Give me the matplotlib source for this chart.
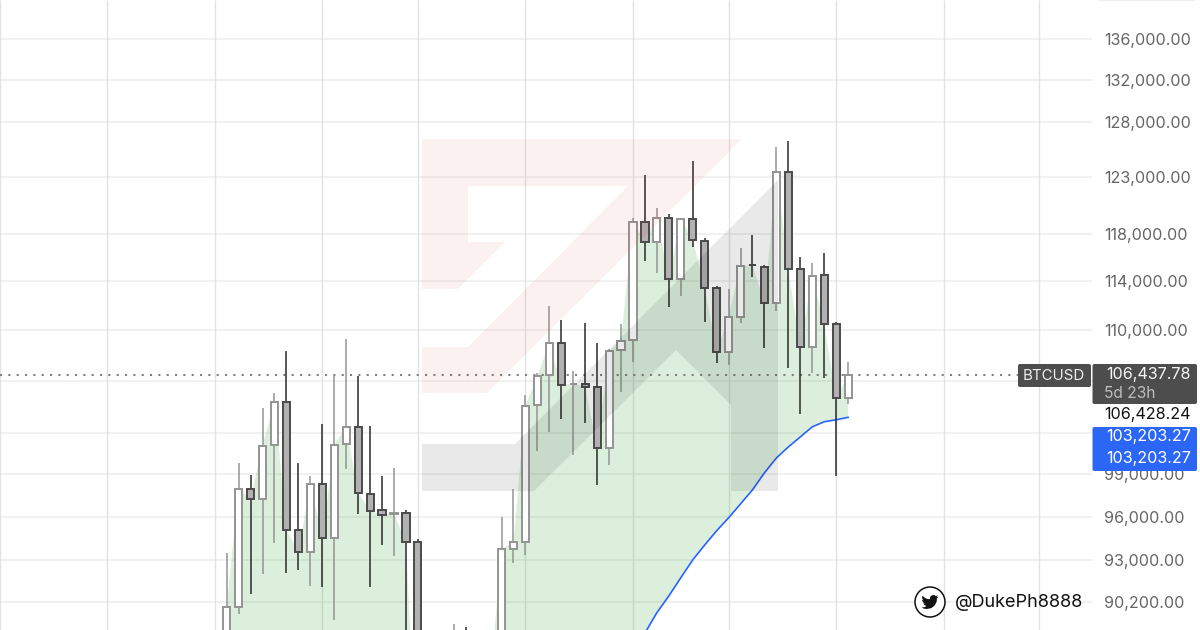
import matplotlib
matplotlib.use('Agg')
import matplotlib.pyplot as plt
from matplotlib.patches import Polygon, Circle, FancyBboxPatch

plt.rcParams['font.family'] = ['Inter', 'DejaVu Sans']

# weekly candles, values (the ones under the bottom edge are guesses)
opens = [86800, 89880, 97960, 97240, 101150, 104370, 95080, 93550, 98320, 94520,
         101220, 102490, 97600, 96470, 96160, 96260, 94240, 78000, 83000, 84000,
         85200, 84800, 83500, 84700, 93760, 94240, 104140, 106460, 108960, 105740,
         105760, 105530, 100920, 108400, 109210, 119030, 117290, 119370, 114180, 119290,
         117380, 113430, 108250, 111060, 115370, 115180, 112180, 123440, 115010, 108640,
         114510, 110490, 104670]
highs = [93480, 99830, 98970, 103920, 105060, 108320, 99830, 98900, 102720, 106380,
         109290, 106380, 102570, 98900, 99470, 96470, 94450, 85000, 86500, 88790,
         88540, 86000, 87000, 95980, 97960, 104900, 106610, 111940, 110820, 106770,
         110570, 108960, 108480, 110490, 119370, 123180, 120240, 119720, 119290, 124430,
         117640, 113600, 113340, 116770, 117900, 115350, 125700, 126260, 116020, 115520,
         116350, 110650, 107470]
lows = [86000, 89430, 90730, 92080, 94170, 92140, 92340, 91270, 91200, 89050,
        99400, 96190, 91200, 94030, 93280, 87000, 76000, 76000, 81000, 82800,
        83500, 82500, 83000, 83800, 92810, 93350, 100700, 102120, 103090, 100410,
        102790, 98250, 99690, 105140, 107470, 115680, 114680, 111860, 112770, 116860,
        110650, 107390, 107240, 110570, 114350, 108560, 111540, 107000, 103470, 106610,
        106220, 98900, 104220]
closes = [89880, 97960, 97240, 101070, 104370, 95080, 93550, 98320, 94520, 101150,
          102490, 97670, 96400, 96120, 96220, 94240, 78000, 83000, 84000, 85200,
          84800, 83500, 84700, 93760, 94240, 104070, 106380, 108960, 105680, 105780,
          105530, 100920, 108320, 109130, 119030, 117290, 119370, 114180, 119290, 117470,
          113430, 108250, 111060, 115260, 115330, 112180, 123440, 115010, 108640, 114430,
          110490, 104670, 106437.78]
ma_line = [79000, 79300, 79600, 79900, 80200, 80500, 80800, 81100, 81400, 81700,
           82000, 82300, 82500, 82700, 82900, 83100, 83200, 83300, 83400, 83500,
           83600, 83700, 83800, 83900, 84000, 84200, 84400, 84600, 84900, 85200,
           85500, 85900, 86300, 86800, 87400, 88180, 89500, 90600, 91810, 93010,
           94030, 95010, 95910, 96890, 97890, 99110, 100190, 101000, 101740, 102490,
           102870, 103020, 103203.27]

price_ticks = [136000, 132000, 128000, 123000, 118000, 114000, 110000,
               99000, 96000, 93000, 90200]
# 106000 and 102000 have grid lines but their labels sit under the price tags
grid_prices = [140000, 106000, 102000] + price_ticks
month_lines = [-19, -10, -1, 8, 16, 25, 34, 42, 51, 60, 68]
last_price = 106437.78

fig = plt.figure(figsize=(12, 6.3), dpi=100, facecolor='white')
ax = fig.add_axes([0, 0, 1092 / 1200, 1])
ax.set_yscale('log')
ax.set_xlim(-18.97, 72.41)
ax.set_ylim(88375, 139924)

xs = list(range(len(closes)))

# grid
ax.hlines(grid_prices, -18.97, 72.41, color='#f1f1f1', lw=1.4, zorder=1)
ax.vlines(month_lines, 88375, 139924, color='#e2e2e2', lw=1.0, zorder=1)

# green area between closes and the average
ax.fill_between(xs, ma_line, closes, where=[c > m for c, m in zip(closes, ma_line)],
                interpolate=True, color='#4caf50', alpha=0.2, lw=0, zorder=2)
ax.plot(xs, ma_line, color='#2962ff', lw=1.2, zorder=3)
ax.axhline(last_price, xmax=1018 / 1092, color='#808080', lw=1.5, ls=(0, (1, 3)), zorder=3)

for i in xs:
    up = closes[i] >= opens[i]
    wick = '#949494' if up else '#2a2a2a'
    edge = '#949494' if up else '#4a4a4a'
    face = 'white' if up else '#b2b2b2'
    ax.vlines(i, lows[i], highs[i], color=wick, lw=1.1, zorder=4)
    ax.bar(i, abs(closes[i] - opens[i]), bottom=min(opens[i], closes[i]), width=0.6,
           facecolor=face, edgecolor=edge, lw=1.4, zorder=5)

ax.yaxis.tick_right()
ax.set_yticks(price_ticks)
ax.set_yticklabels([f'{v:,.2f}' for v in price_ticks])
ax.minorticks_off()
ax.tick_params(axis='y', which='both', length=0, pad=8.6, labelsize=11.6, labelcolor='#666666')
ax.tick_params(axis='x', which='both', length=0, labelbottom=False)
for s in ax.spines.values():
    s.set_visible(False)

# overlay in picture pixels: watermark, price tags, handle
ov = fig.add_axes([0, 0, 1, 1], zorder=5)
ov.set_xlim(0, 1200)
ov.set_ylim(630, 0)
ov.axis('off')

pink = [(422, 139), (742, 139), (487, 393), (422, 393), (422, 347), (468, 347), (628, 186),
        (468, 186), (468, 242), (505, 242), (458, 289), (422, 289)]
grey = [(422, 444), (515, 444), (778, 180), (778, 491), (731, 491), (731, 405), (676, 350),
        (534, 491), (422, 491)]
ov.add_patch(Polygon(pink, closed=True, fc='#d83030', alpha=0.065, lw=0))
ov.add_patch(Polygon(grey, closed=True, fc='#000000', alpha=0.088, lw=0))


def tag(x0, y0, x1, y1, color):
    ov.add_patch(FancyBboxPatch((x0 + 2, y0 + 2), x1 - x0 - 4, y1 - y0 - 4,
                                boxstyle='round,pad=2,rounding_size=2', fc=color, ec='none'))


tag(1018, 364, 1091, 387, '#4d4d4d')
tag(1092.5, 364, 1197, 404, '#4d4d4d')
ov.add_patch(plt.Rectangle((1092.5, 404), 104.5, 23, fc='white', ec='none'))
tag(1092.5, 427, 1197, 471, '#2b66f6')
# sliver of a tag cut off by the top edge
ov.add_patch(plt.Rectangle((1099, 0), 96, 1, fc='#ececec', ec='none'))

ov.text(1054, 376, 'BTCUSD', color='#eeeeee', fontsize=10.8, ha='center', va='center')
ov.text(1191, 375, '106,437.78', color='#f5f5f5', fontsize=11.6, ha='right', va='center')
ov.text(1104, 393, '5d 23h', color='#bdbdbd', fontsize=11.2, ha='left', va='center')
ov.text(1191, 415, '106,428.24', color='#111111', fontsize=11.6, ha='right', va='center')
ov.text(1191, 437, '103,203.27', color='white', fontsize=11.6, ha='right', va='center')
ov.text(1191, 459, '103,203.27', color='white', fontsize=11.6, ha='right', va='center')

# twitter bird from the usual 24 unit outline
bird = [(23.95, 4.57), (21.13, 5.35), (23.29, 2.62), (20.16, 3.8), (18.6, 2.7), (16.5, 2.3), (14.6, 2.7),
        (13.2, 3.8), (12.2, 5.2), (11.9, 6.5), (12.07, 8.1), (7.7, 7.7), (4.2, 5.8), (1.64, 3.16),
        (0.97, 5.64), (1.5, 8), (3.16, 9.73), (0.93, 9.12), (0.93, 9.18), (2, 12.2), (4.88, 14),
        (2.67, 14.09), (4.4, 16.4), (7.27, 17.5), (4.2, 19.2), (1.17, 19.6), (0, 19.54), (3.5, 21.2),
        (7.56, 21.75), (14, 20.5), (18.7, 16.5), (21.3, 11.5), (21.55, 7.76), (21.54, 7.13)]
ov.add_patch(Circle((930, 602), 15, fc='white', ec='#111111', lw=1.1))
ov.add_patch(Polygon([(930 + (x - 12) * 0.72, 602 + (y - 12) * 0.72) for x, y in bird],
                     closed=True, fc='#111111', lw=0))
ov.text(955, 602.5, '@DukePh8888', color='#111111', fontsize=13.0, ha='left', va='center')

fig.savefig('out.png', dpi=100)
